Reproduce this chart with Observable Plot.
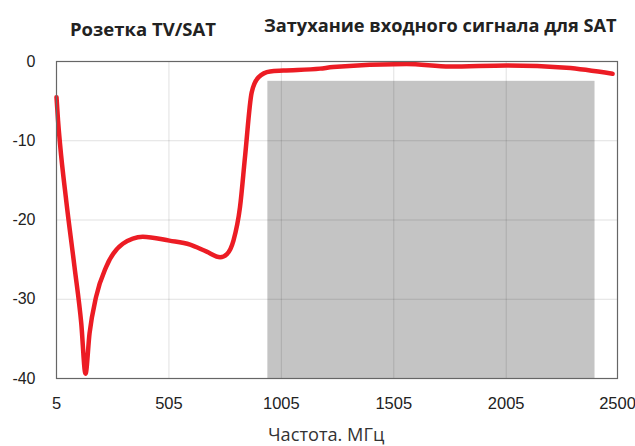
<!DOCTYPE html>
<html>
<head>
<meta charset="utf-8">
<script src="https://cdn.jsdelivr.net/npm/d3@7"></script>
<script src="https://cdn.jsdelivr.net/npm/@observablehq/plot@0.6"></script>
<style>
  html, body { margin: 0; padding: 0; background: #fff; }
  #wrap { position: relative; width: 635px; height: 446px; overflow: hidden; }
  .t { position: absolute; font-family: "Open Sans", sans-serif; color: #222; white-space: nowrap; line-height: 1; }
  .title1 { left: 70px; top: 19.5px; font-size: 18.5px; font-weight: 700; }
  .title2 { left: 264px; top: 15.5px; font-size: 18.2px; font-weight: 700; }
  .cap { left: 268px; top: 425px; font-size: 18.2px; font-weight: 400; color: #333; }
</style>
</head>
<body>
<div id="wrap">
  <div id="chart"></div>
  <div class="t title1">Розетка TV/SAT</div>
  <div class="t title2">Затухание входного сигнала для SAT</div>
  <div class="t cap">Частота. МГц</div>
</div>
<script>
const freq = [5, 12, 21, 48, 85, 115, 134, 152, 181, 226, 300, 389, 507, 599, 673, 733, 763, 792, 821, 844, 873, 903, 955, 1014, 1177, 1235, 1562, 1755, 2007, 2273, 2478];
const atten = [-4.5, -7.5, -10.5, -17.5, -25.9, -33.0, -39.4, -34.3, -29.7, -25.9, -23.0, -22.1, -22.6, -23.1, -24.0, -24.7, -24.3, -22.6, -18.4, -11.85, -3.9, -2.0, -1.26, -1.15, -0.9, -0.7, -0.3, -0.63, -0.5, -0.8, -1.55];
const xTicks = [5, 505, 1005, 1505, 2005, 2500];
const yTicks = [0, -10, -20, -30, -40];
const satBand = [{x1: 945, x2: 2400, y1: -40, y2: -2.5}];

const data = freq.map((f, i) => ({f, a: atten[i]}));

const chart = Plot.plot({
  width: 635,
  height: 446,
  marginLeft: 56,
  marginRight: 18,
  marginTop: 61,
  marginBottom: 68,
  style: {fontFamily: "'Liberation Sans', Arial, sans-serif", background: "#fff"},
  x: {domain: [5, 2500], ticks: xTicks},
  y: {domain: [-40, 0], ticks: yTicks},
  marks: [
    Plot.rect(satBand, {x1: "x1", x2: "x2", y1: "y1", y2: "y2", fill: "#c4c4c4"}),
    Plot.gridX(xTicks, {stroke: "#000", strokeOpacity: 0.12}),
    Plot.gridY(yTicks, {stroke: "#000", strokeOpacity: 0.12}),
    Plot.axisX(xTicks, {tickSize: 0, tickPadding: 19, fontSize: 16.5, fill: "#222", label: null, tickFormat: d => String(d), style: {letterSpacing: "-0.9px"}}),
    Plot.axisY(yTicks, {tickSize: 0, tickPadding: 21, fontSize: 16, fill: "#222", label: null, tickFormat: d => String(d)}),
    Plot.line(data, {x: "f", y: "a", stroke: "#ec1c24", strokeWidth: 4.5, curve: "monotone-x"}),
    Plot.frame({stroke: "#666", strokeWidth: 1.2})
  ]
});
document.getElementById("chart").appendChild(chart);
</script>
</body>
</html>
